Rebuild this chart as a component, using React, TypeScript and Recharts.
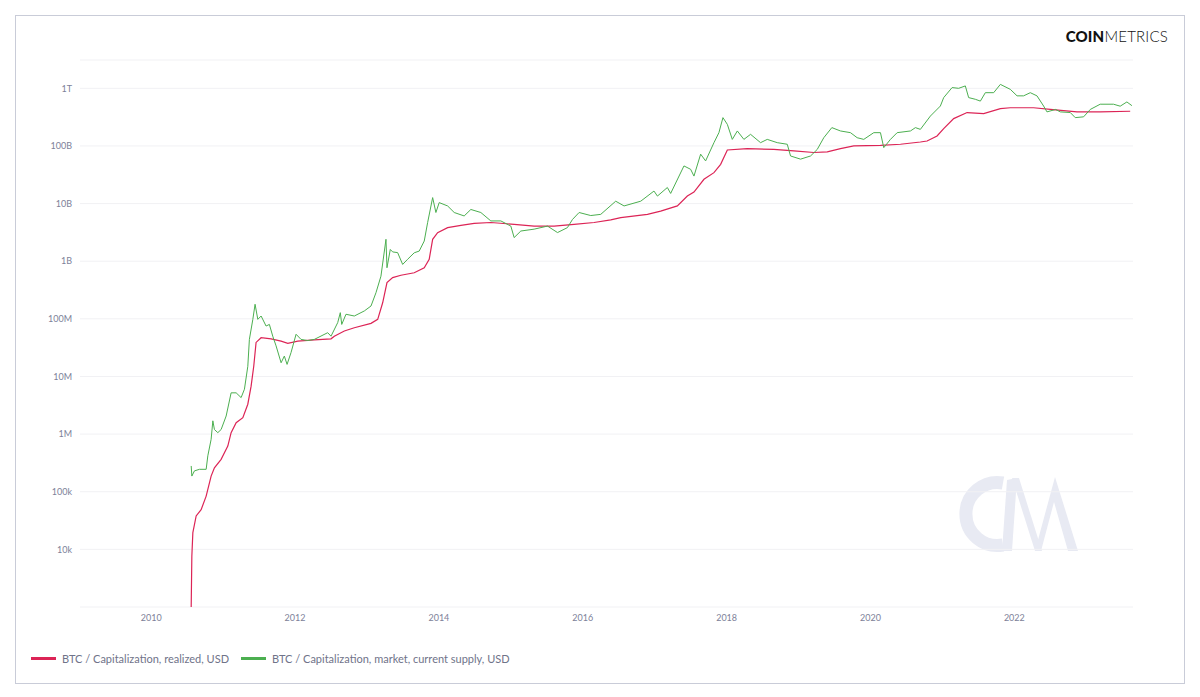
import React from "react";
import { CartesianGrid, Line, LineChart, XAxis, YAxis } from "recharts";

// dates are decimal years
const realizedDates = [
  2010.556, 2010.565, 2010.579, 2010.625, 2010.694, 2010.764, 2010.833, 2010.879, 2010.972, 2011.065,
  2011.111, 2011.181, 2011.274, 2011.343, 2011.389, 2011.426, 2011.458, 2011.528, 2011.667, 2011.806,
  2011.899, 2012.038, 2012.268, 2012.5, 2012.546, 2012.685, 2012.824, 2013.056, 2013.149, 2013.218,
  2013.278, 2013.357, 2013.472, 2013.657, 2013.796, 2013.865, 2013.913, 2013.982, 2014.121, 2014.306,
  2014.49, 2014.722, 2015.046, 2015.324, 2015.601, 2015.879, 2016.157, 2016.389, 2016.528, 2016.899,
  2017.083, 2017.315, 2017.454, 2017.546, 2017.685, 2017.824, 2017.917, 2018.01, 2018.287, 2018.657,
  2018.935, 2019.213, 2019.399, 2019.583, 2019.768, 2020.139, 2020.417, 2020.694, 2020.787, 2020.926,
  2021.018, 2021.157, 2021.343, 2021.574, 2021.806, 2021.944, 2022.268, 2022.5, 2022.871, 2023.194,
  2023.611,
];
const realizedValues = [
  1e3, 7.6e3, 1.95e4, 3.8e4, 4.9e4, 8.4e4, 1.87e5, 2.6e5, 3.65e5, 6.2e5,
  1.06e6, 1.58e6, 1.93e6, 3.3e6, 6.8e6, 1.52e7, 3.9e7, 4.7e7, 4.5e7, 4.1e7,
  3.76e7, 4.1e7, 4.3e7, 4.5e7, 5.0e7, 6.15e7, 7.0e7, 8.35e7, 9.8e7, 1.9e8,
  4.25e8, 5.2e8, 5.7e8, 6.3e8, 7.7e8, 1.08e9, 2.4e9, 3.13e9, 3.83e9, 4.2e9,
  4.55e9, 4.7e9, 4.36e9, 4.07e9, 4.07e9, 4.36e9, 4.7e9, 5.2e9, 5.7e9, 6.5e9,
  7.4e9, 9.1e9, 1.35e10, 1.58e10, 2.64e10, 3.44e10, 4.8e10, 8.5e10, 8.98e10, 8.7e10,
  8.2e10, 7.7e10, 7.9e10, 9.0e10, 1.0e11, 1.02e11, 1.07e11, 1.17e11, 1.22e11, 1.49e11,
  2.0e11, 2.98e11, 3.8e11, 3.65e11, 4.45e11, 4.6e11, 4.6e11, 4.3e11, 3.9e11, 3.9e11,
  4.0e11,
];

const marketDates = [
  2010.556, 2010.565, 2010.601, 2010.671, 2010.764, 2010.787, 2010.833, 2010.857, 2010.879, 2010.926,
  2010.972, 2011.042, 2011.111, 2011.181, 2011.25, 2011.296, 2011.343, 2011.365, 2011.413, 2011.444,
  2011.482, 2011.528, 2011.597, 2011.643, 2011.69, 2011.736, 2011.806, 2011.851, 2011.889, 2011.944,
  2012.014, 2012.083, 2012.176, 2012.268, 2012.454, 2012.5, 2012.593, 2012.629, 2012.649, 2012.708,
  2012.824, 2012.963, 2013.056, 2013.125, 2013.194, 2013.264, 2013.278, 2013.324, 2013.357, 2013.426,
  2013.496, 2013.565, 2013.657, 2013.726, 2013.796, 2013.843, 2013.913, 2013.958, 2014.004, 2014.121,
  2014.213, 2014.351, 2014.444, 2014.583, 2014.722, 2014.861, 2015.0, 2015.046, 2015.139, 2015.324,
  2015.51, 2015.649, 2015.787, 2015.857, 2015.949, 2016.111, 2016.25, 2016.458, 2016.574, 2016.806,
  2016.99, 2017.038, 2017.176, 2017.222, 2017.407, 2017.5, 2017.546, 2017.639, 2017.708, 2017.824,
  2017.893, 2017.949, 2018.01, 2018.079, 2018.149, 2018.24, 2018.333, 2018.472, 2018.565, 2018.704,
  2018.843, 2018.889, 2019.028, 2019.167, 2019.26, 2019.351, 2019.463, 2019.583, 2019.722, 2019.815,
  2019.907, 2020.046, 2020.139, 2020.185, 2020.278, 2020.371, 2020.556, 2020.625, 2020.694, 2020.833,
  2020.972, 2021.018, 2021.135, 2021.226, 2021.319, 2021.365, 2021.458, 2021.528, 2021.597, 2021.713,
  2021.806, 2021.944, 2022.038, 2022.129, 2022.222, 2022.315, 2022.407, 2022.454, 2022.574, 2022.639,
  2022.778, 2022.847, 2022.963, 2023.056, 2023.194, 2023.379, 2023.472, 2023.565, 2023.635,
];
const marketValues = [
  2.8e5, 1.87e5, 2.3e5, 2.45e5, 2.45e5, 4.2e5, 8.1e5, 1.7e6, 1.2e6, 1.06e6,
  1.2e6, 2.06e6, 5.2e6, 5.2e6, 4.3e6, 6.0e6, 1.5e7, 4.4e7, 9.8e7, 1.79e8,
  9.8e7, 1.12e8, 7.5e7, 8.0e7, 5.0e7, 3.4e7, 1.73e7, 2.26e7, 1.62e7, 2.6e7,
  5.4e7, 4.4e7, 4.2e7, 4.4e7, 5.75e7, 5.0e7, 8.6e7, 1.28e8, 8.0e7, 1.2e8,
  1.12e8, 1.37e8, 1.67e8, 2.84e8, 5.5e8, 2.4e9, 7.7e8, 1.6e9, 1.45e9, 1.41e9,
  8.8e8, 1.08e9, 1.4e9, 1.5e9, 2.24e9, 4.67e9, 1.27e10, 7.0e9, 1.04e10, 9.1e9,
  7.0e9, 6.1e9, 7.9e9, 7.0e9, 5.0e9, 5.0e9, 4.07e9, 2.57e9, 3.34e9, 3.6e9,
  4.07e9, 3.14e9, 3.83e9, 5.3e9, 7.0e9, 6.2e9, 6.5e9, 1.1e10, 9.1e9, 1.1e10,
  1.65e10, 1.35e10, 1.9e10, 1.5e10, 4.5e10, 3.93e10, 3.0e10, 7.2e10, 5.5e10, 1.14e11,
  1.7e11, 3.1e11, 2.37e11, 1.3e11, 1.82e11, 1.3e11, 1.59e11, 1.14e11, 1.3e11, 1.14e11,
  1.07e11, 6.7e10, 5.9e10, 6.7e10, 8.7e10, 1.39e11, 2.08e11, 1.82e11, 1.7e11, 1.39e11,
  1.3e11, 1.7e11, 1.7e11, 9.35e10, 1.3e11, 1.7e11, 1.82e11, 2.08e11, 1.94e11, 3.3e11,
  4.93e11, 6.9e11, 1.03e12, 1.0e12, 1.1e12, 6.9e11, 6.45e11, 6.0e11, 8.4e11, 8.4e11,
  1.17e12, 9.6e11, 7.4e11, 7.4e11, 8.4e11, 7.4e11, 4.93e11, 3.9e11, 4.3e11, 3.9e11,
  3.8e11, 3.1e11, 3.2e11, 4.3e11, 5.3e11, 5.3e11, 4.9e11, 5.8e11, 5.0e11,
];

const yearTicks = [2010, 2012, 2014, 2016, 2018, 2020, 2022];
const capTicks = [1e4, 1e5, 1e6, 1e7, 1e8, 1e9, 1e10, 1e11, 1e12];
const capLabels = ["10k", "100k", "1M", "10M", "100M", "1B", "10B", "100B", "1T"];

const seriesNames = ["BTC / Capitalization, realized, USD", "BTC / Capitalization, market, current supply, USD"];
const seriesColors = ["#dc2456", "#4caf50"];

const realized = realizedDates.map((t, i) => ({ t, v: realizedValues[i] }));
const market = marketDates.map((t, i) => ({ t, v: marketValues[i] }));

const font = "Lato, 'Open Sans', sans-serif";
const tickStyle = { fontSize: 9, fill: "#7d8199", fontFamily: font };
const wm = "#e8eaf3";

export default function App() {
  return (
    <div style={{ position: "absolute", left: 0, top: 0, width: 1200, height: 697, background: "#fff", fontFamily: font }}>
      <div style={{ position: "absolute", left: 15, top: 15, width: 1168, height: 667, border: "1px solid #c9ccd8" }} />
      <div style={{ position: "absolute", right: 32, top: 27, fontSize: 15, color: "#111", letterSpacing: 0.2 }}>
        <span style={{ fontWeight: 900 }}>COIN</span>
        <span style={{ fontWeight: 300 }}>METRICS</span>
      </div>
      {/* CM watermark, page coordinates */}
      <svg width={1200} height={697} style={{ position: "absolute", left: 0, top: 0, pointerEvents: "none" }}>
        <path d="M 1003 483 A 31.5 31.5 0 1 0 1003 545" fill="none" stroke={wm} strokeWidth={13} />
        <polygon points="1007,480 1017,478 1012,551 1002,551" fill={wm} />
        <polygon points="1012,478 1019,478 1042,551 1035,551" fill={wm} />
        <polygon points="1035,551 1055,477 1078,551 1068,551 1054,502 1041,551" fill={wm} />
      </svg>
      <LineChart width={1200} height={697} margin={{ top: 60, right: 67, bottom: 60, left: 20 }} style={{ position: "absolute", left: 0, top: 0 }}>
        <CartesianGrid vertical={false} stroke="#f1f1f4" />
        <XAxis
          dataKey="t"
          type="number"
          domain={[2009.01, 2023.65]}
          allowDataOverflow
          ticks={yearTicks}
          tickFormatter={(v) => String(v)}
          axisLine={false}
          tickLine={false}
          tick={tickStyle}
          height={30}
        />
        <YAxis
          dataKey="v"
          type="number"
          scale="log"
          domain={[1e3, 3.1e12]}
          allowDataOverflow
          ticks={capTicks}
          tickFormatter={(v) => capLabels[capTicks.indexOf(v)] ?? ""}
          axisLine={false}
          tickLine={false}
          tick={tickStyle}
          width={60}
        />
        <Line data={realized} dataKey="v" name={seriesNames[0]} stroke={seriesColors[0]} strokeWidth={1.2} dot={false} isAnimationActive={false} />
        <Line data={market} dataKey="v" name={seriesNames[1]} stroke={seriesColors[1]} strokeWidth={1} dot={false} isAnimationActive={false} />
      </LineChart>
      <div style={{ position: "absolute", left: 31, top: 652, display: "flex", alignItems: "center", fontSize: 11, color: "#6f7389" }}>
        {seriesNames.map((n, i) => (
          <div key={n} style={{ display: "flex", alignItems: "center", marginRight: 12 }}>
            <span style={{ display: "inline-block", width: 25, height: 3, background: seriesColors[i], marginRight: 6 }} />
            <span>{n}</span>
          </div>
        ))}
      </div>
    </div>
  );
}
